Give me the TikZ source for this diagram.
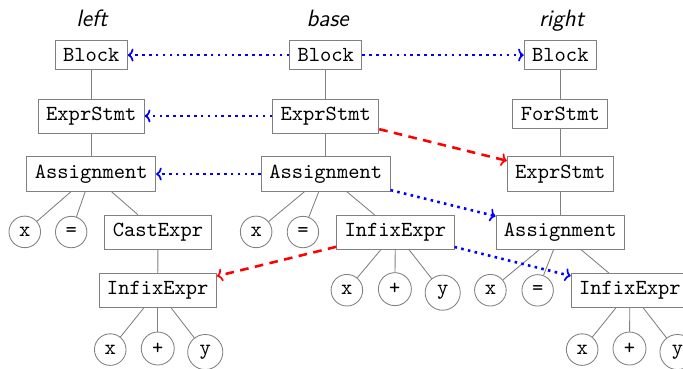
\documentclass[tikz,border=0pt]{standalone}
\usepackage{tikz}
\usetikzlibrary{calc,shapes,arrows,arrows.meta}

\tikzset{
  ast/.style={draw=gray, rectangle, inner sep=3.7pt, font=\ttfamily, anchor=base},
  leaf/.style={draw=gray, circle, inner sep=2.8pt, font=\ttfamily, anchor=base},
  title/.style={font=\fontsize{11}{13}\selectfont\sffamily\itshape, anchor=base},
  tree/.style={gray},
  same/.style={blue, very thick, dotted, -{To[line width=0.8pt, length=2.6pt, width=6pt]}},
  moved/.style={red, very thick, dash pattern=on 4pt off 3pt, -{To[line width=0.8pt, length=2.6pt, width=6pt]}}
}

\begin{document}
\begin{tikzpicture}
        \useasboundingbox (0,0) rectangle (11.17,6.02);
        % titles
        \node[title] (tl) at (1.504,5.59) {left};
        \node[title] (tb) at (5.358,5.59) {base};
        \node[title] (tr) at (9.184,5.59) {right};
        % left tree
        \node[ast] (lBlock) at (1.493,5.013) {Block};
        \node[ast] (lExpr) at (1.493,4.053) {ExprStmt};
        \node[ast] (lAssign) at (1.493,3.105) {Assignment};
        \node[leaf] (lx) at (0.405,2.152) {x};
        \node[leaf] (leq) at (1.164,2.152) {=};
        \node[ast] (lCast) at (2.583,2.152) {CastExpr};
        \node[ast] (lInfix) at (2.580,1.198) {InfixExpr};
        \node[leaf] (lix) at (1.803,0.227) {x};
        \node[leaf] (lip) at (2.580,0.227) {+};
        \node[leaf] (liy) at (3.357,0.227) {y};
        % base tree
        \node[ast] (bBlock) at (5.327,5.013) {Block};
        \node[ast] (bExpr) at (5.327,4.053) {ExprStmt};
        \node[ast] (bAssign) at (5.327,3.105) {Assignment};
        \node[leaf] (bx) at (4.189,2.152) {x};
        \node[leaf] (beq) at (4.954,2.152) {=};
        \node[ast] (bInfix) at (6.466,2.152) {InfixExpr};
        \node[leaf] (bix) at (5.673,1.198) {x};
        \node[leaf] (bip) at (6.458,1.198) {+};
        \node[leaf] (biy) at (7.240,1.198) {y};
        % right tree
        \node[ast] (rBlock) at (9.164,5.013) {Block};
        \node[ast] (rFor) at (9.164,4.053) {ForStmt};
        \node[ast] (rExpr) at (9.164,3.105) {ExprStmt};
        \node[ast] (rAssign) at (9.164,2.152) {Assignment};
        \node[leaf] (rx) at (8.020,1.198) {x};
        \node[leaf] (req) at (8.793,1.198) {=};
        \node[ast] (rInfix) at (10.301,1.198) {InfixExpr};
        \node[leaf] (rix) at (9.521,0.227) {x};
        \node[leaf] (rip) at (10.295,0.227) {+};
        \node[leaf] (riy) at (11.080,0.227) {y};
        % tree edges
        \draw[tree] (lBlock) -- (lExpr);
        \draw[tree] (lExpr) -- (lAssign);
        \foreach \c in {lx,leq,lCast}
        \draw[tree] (lAssign) -- (\c);
        \draw[tree] (lCast) -- (lInfix);
        \foreach \c in {lix,lip,liy}
        \draw[tree] (lInfix) -- (\c);
        \draw[tree] (bBlock) -- (bExpr);
        \draw[tree] (bExpr) -- (bAssign);
        \foreach \c in {bx,beq,bInfix}
        \draw[tree] (bAssign) -- (\c);
        \foreach \c in {bix,bip,biy}
        \draw[tree] (bInfix) -- (\c);
        \draw[tree] (rBlock) -- (rFor);
        \draw[tree] (rFor) -- (rExpr);
        \draw[tree] (rExpr) -- (rAssign);
        \foreach \c in {rx,req,rInfix}
        \draw[tree] (rAssign) -- (\c);
        \foreach \c in {rix,rip,riy}
        \draw[tree] (rInfix) -- (\c);
        % mappings
        \draw[same] (bBlock) -- (lBlock);
        \draw[same] (bBlock) -- (rBlock);
        \draw[same] (bExpr) -- (lExpr);
        \draw[same] (bAssign) -- (lAssign);
        \draw[same] (bAssign) -- (rAssign);
        \draw[same] (bInfix) -- (rInfix);
        \draw[moved] (bExpr) -- (rExpr);
        \draw[moved] (bInfix) -- (lInfix);
    \end{tikzpicture}
\end{document}
